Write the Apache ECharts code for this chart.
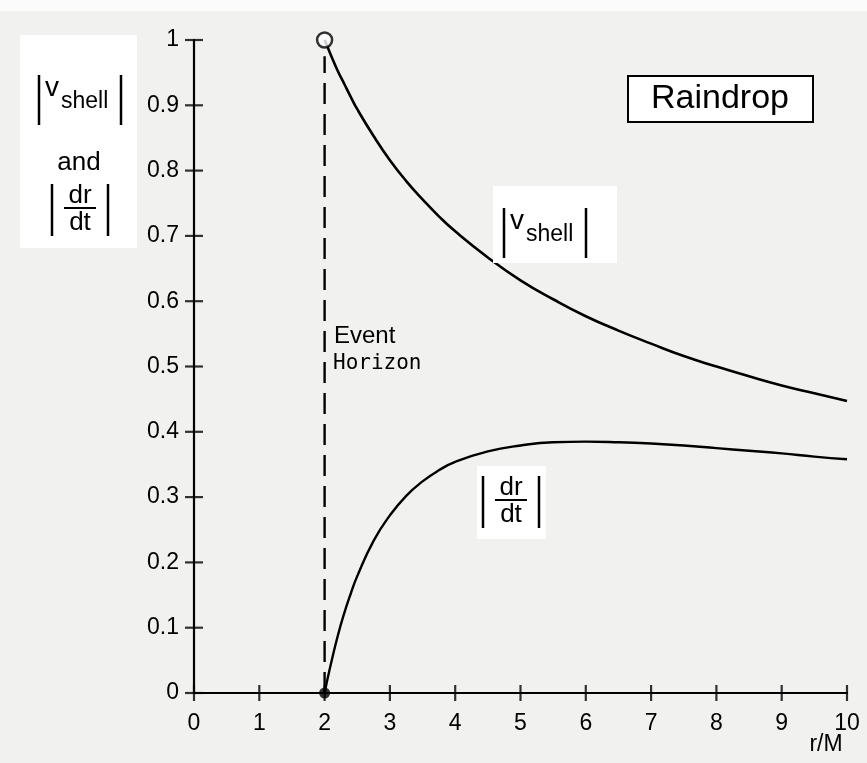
<!DOCTYPE html>
<html><head><meta charset="utf-8">
<script src="https://cdn.jsdelivr.net/npm/echarts@6/dist/echarts.min.js"></script>
<style>html,body{margin:0;padding:0;background:#f1f1f0}#c{width:867px;height:763px}</style>
</head><body><div id="c"></div>
<script>
// r/M sample positions
const rValues = [2, 2.05, 2.1, 2.2, 2.3, 2.4, 2.5, 2.75, 3, 3.25, 3.5, 3.75, 4, 4.5, 5, 5.5, 6, 6.5, 7, 7.5, 8, 8.5, 9, 9.5, 10];
// |v_shell|
const vShell = [1.000, 0.988, 0.976, 0.953, 0.933, 0.913, 0.894, 0.853, 0.816, 0.784, 0.756, 0.730, 0.707, 0.667, 0.632, 0.603, 0.577, 0.555, 0.535, 0.516, 0.500, 0.485, 0.471, 0.459, 0.447];
// |dr/dt|
const drdt = [0.000, 0.024, 0.046, 0.087, 0.122, 0.152, 0.179, 0.233, 0.272, 0.302, 0.324, 0.341, 0.354, 0.370, 0.379, 0.384, 0.385, 0.384, 0.382, 0.379, 0.375, 0.371, 0.367, 0.362, 0.358];
// event horizon
const horizonR = 2;
const horizonTop = 0.975;
const openPoint = [[2, 1]];
const filledPoint = [[2, 0]];
// tick values
const xTickValues = [0, 1, 2, 3, 4, 5, 6, 7, 8, 9, 10];
const yTickValues = [0, 0.1, 0.2, 0.3, 0.4, 0.5, 0.6, 0.7, 0.8, 0.9, 1];
const xMin = 0, xMax = 10, xStep = 1;
const yMin = 0, yMax = 1, yStep = 0.1;

const chart = echarts.init(document.getElementById('c'), null, {renderer: 'canvas'});
const F = '"Liberation Sans", Arial, Helvetica, sans-serif';
const black = '#000';

const option = {
  backgroundColor: '#f1f1f0',
  animation: false,
  grid: {left: 194, right: 20, top: 40, bottom: 70, containLabel: false},
  xAxis: {
    type: 'value', min: xMin, max: xMax, interval: xStep, position: 'bottom',
    axisLine: {show: true, onZero: false, lineStyle: {color: black, width: 2.2}},
    axisTick: {show: false},
    axisLabel: {show: true, margin: 19, fontSize: 23, color: black, fontFamily: F},
    splitLine: {show: false}
  },
  yAxis: {
    type: 'value', min: yMin, max: yMax, interval: yStep, position: 'left',
    axisLine: {show: true, onZero: false, lineStyle: {color: black, width: 2.2}},
    axisTick: {show: false},
    axisLabel: {show: true, margin: 15, fontSize: 23, color: black, fontFamily: F,
      formatter: v => (Math.round(v * 10) / 10).toString()},
    splitLine: {show: false}
  },
  series: [
    {type: 'line', name: 'vshell', data: rValues.map((r, i) => [r, vShell[i]]), smooth: true, showSymbol: false,
      lineStyle: {color: black, width: 2.6}, z: 5},
    {type: 'line', name: 'drdt', data: rValues.map((r, i) => [r, drdt[i]]), smooth: true, showSymbol: false,
      lineStyle: {color: black, width: 2.4}, z: 5},
    {type: 'line', name: 'horizon', data: [[horizonR, yMin], [horizonR, horizonTop]], showSymbol: false,
      lineStyle: {color: black, width: 2.4, type: [21, 10]}, z: 4},
    // crossing tick marks on both axes
    {type: 'scatter', name: 'xticks', data: xTickValues.map(v => [v, yMin]), symbol: 'rect', symbolSize: [2.2, 16],
      clip: false, silent: true, itemStyle: {color: black}, z: 3},
    {type: 'scatter', name: 'yticks', data: yTickValues.map(v => [xMin, v]), symbol: 'rect', symbolSize: [18, 2.2],
      clip: false, silent: true, itemStyle: {color: black}, z: 3},
    {type: 'scatter', data: openPoint, symbol: 'circle', symbolSize: 15, clip: false,
      itemStyle: {color: '#fff', borderColor: black, borderWidth: 2.5}, z: 10},
    {type: 'scatter', data: filledPoint, symbol: 'circle', symbolSize: 11, clip: false,
      itemStyle: {color: black}, z: 10}
  ]
};

function bar(x, y1, y2) {
  return {type: 'line', shape: {x1: x, y1: y1, x2: x, y2: y2}, style: {stroke: black, lineWidth: 2.5}, z: 101};
}
function txt(s, x, y, size, align, family, extra) {
  return {type: 'text', x: x, y: y, z: 102, style: Object.assign({text: s, font: size + 'px ' + (family || F), fill: black,
    textAlign: align || 'left', textVerticalAlign: 'middle'}, extra || {})};
}
function box(x, y, w, h, stroke) {
  return {type: 'rect', shape: {x: x, y: y, width: w, height: h}, z: 100,
    style: {fill: '#fff', stroke: stroke ? black : null, lineWidth: stroke ? 2 : 0}};
}
function vshellLabel(x0, y0) {
  return [
    bar(x0, y0, y0 + 50),
    txt('v', x0 + 6, y0 + 13, 28),
    txt('shell', x0 + 22, y0 + 27, 23),
    bar(x0 + 82, y0, y0 + 50)
  ];
}
function drdtLabel(cx, y0, halfW) {
  return [
    bar(cx - halfW, y0, y0 + 52),
    txt('dr', cx, y0 + 12, 26, 'center'),
    {type: 'line', shape: {x1: cx - 16, y1: y0 + 24, x2: cx + 16, y2: y0 + 24}, style: {stroke: black, lineWidth: 2}, z: 101},
    txt('dt', cx, y0 + 39, 26, 'center'),
    bar(cx + halfW, y0, y0 + 52)
  ];
}

option.graphic = [].concat(
  [{type: 'rect', shape: {x: 0, y: 0, width: 867, height: 11}, style: {fill: '#fbfbfb'}, z: 0}],
  [box(20, 35, 117, 213, false)],
  vshellLabel(39, 75),
  [txt('and', 79, 163, 26, 'center')],
  drdtLabel(80, 184, 28),
  [box(493, 186, 124, 77, false)],
  vshellLabel(504, 208),
  [box(477, 466, 69, 73, false)],
  drdtLabel(511, 476, 28),
  [box(628, 76, 185, 46, true), txt('Raindrop', 720, 99, 34, 'center')],
  [txt('Event', 334, 336, 24), txt('Horizon', 333, 364, 21, 'left', '"DejaVu Sans Mono", monospace')],
  [txt('r/M', 826, 745, 23, 'center', F, {fontStyle: 'italic'})]
);

chart.setOption(option);
</script>
</body></html>
